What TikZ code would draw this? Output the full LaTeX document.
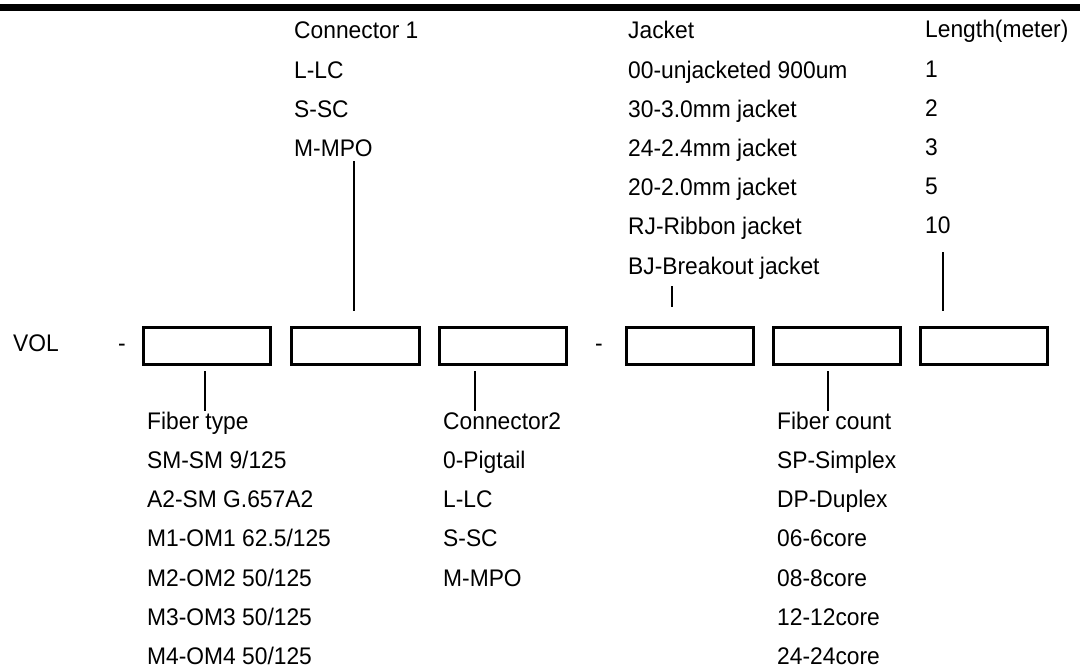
\documentclass[tikz,border=0pt]{standalone}
\usepackage{fontspec}
\setmainfont{Liberation Sans}[FakeStretch=0.95]
\usepackage{tikz}
\usetikzlibrary{positioning, calc}

\begin{document}
\begin{tikzpicture}[
  x=1pt, y=-1pt,
  field/.style={
    rectangle,
    draw,
    line width=2.6pt,
    minimum width=127.5pt,
    minimum height=37.5pt,
    inner sep=0pt
  },
  col/.style={
    anchor=base west,
    align=left,
    inner sep=0pt,
    font=\fontsize{24}{39.2}\selectfont
  },
  leader/.style={line width=2.7pt}
]
\useasboundingbox (0,0) rectangle (1080,668);

% Balken oben
\fill (0,4) rectangle (1080,11);

% Code-Felder
\node[field] (b1) at (207,346) {};
\node[field] (b2) at (355.5,346) {};
\node[field] (b3) at (503,346) {};
\node[field] (b4) at (690,346) {};
\node[field] (b5) at (837,346) {};
\node[field] (b6) at (984,346) {};

\node[col] (vol) at (13,352) {VOL};
\node[col] (dashA) at (118,352) {-};
\node[col] (dashB) at (595,352) {-};

% Listen oben (Anker = letzte Zeile)
\node[col] (con1) at (294,156.6) {%
  Connector 1\\
  L-LC\\
  S-SC\\
  M-MPO
};
\node[col] (jacket) at (628,274.2) {%
  Jacket\\
  00-unjacketed 900um\\
  30-3.0mm jacket\\
  24-2.4mm jacket\\
  20-2.0mm jacket\\
  RJ-Ribbon jacket\\
  BJ-Breakout jacket
};
\node[col] (len) at (925,234) {%
  Length(meter)\\
  1\\
  2\\
  3\\
  5\\
  10
};

% Listen unten
\node[col] (ftype) at (147,664.5) {%
  Fiber type\\
  SM-SM 9/125\\
  A2-SM G.657A2\\
  M1-OM1 62.5/125\\
  M2-OM2 50/125\\
  M3-OM3 50/125\\
  M4-OM4 50/125
};
\node[col] (con2) at (443,586.1) {%
  Connector2\\
  0-Pigtail\\
  L-LC\\
  S-SC\\
  M-MPO
};
\node[col] (fcount) at (777,664.5) {%
  Fiber count\\
  SP-Simplex\\
  DP-Duplex\\
  06-6core\\
  08-8core\\
  12-12core\\
  24-24core
};

% Zuordnung Liste -> Feld
\draw[leader] ($(b2.north)+(-1.5,-15)$) -- ++(0,-150);
\draw[leader] ($(b4.north)+(-18,-19)$) -- ++(0,-21);
\draw[leader] ($(b6.north)+(-41,-15)$) -- ++(0,-59);
\draw[leader] ($(b1.south)+(-2,5)$) -- ++(0,40);
\draw[leader] ($(b3.south)+(-28,5)$) -- ++(0,40);
\draw[leader] ($(b5.south)+(-9,5)$) -- ++(0,40);

\end{tikzpicture}
\end{document}
